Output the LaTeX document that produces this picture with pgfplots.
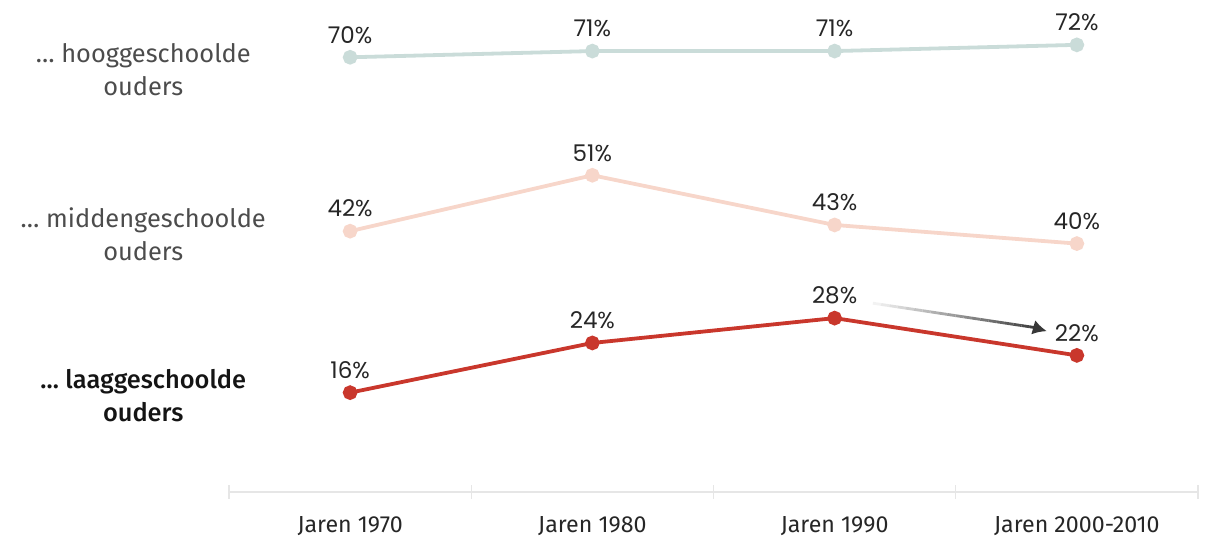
\documentclass[border=0pt]{standalone}
\usepackage{pgfplots}
\pgfplotsset{compat=1.18}
\usepackage{fontspec}
\setmainfont{Fira Sans}
\newfontfamily\numfont{Poppins}
\newfontfamily\medfont{Fira Sans Medium}
\usetikzlibrary{arrows.meta,calc}
\definecolor{hoog}{HTML}{CADCD9}
\definecolor{midden}{HTML}{F7D6CA}
\definecolor{laag}{HTML}{C9372C}
\definecolor{axisgray}{HTML}{E6E6E6}
\begin{document}
\begin{tikzpicture}
\useasboundingbox (-114.5pt,-22.5pt) rectangle (496.5pt,246pt);
\begin{axis}[
  at={(0,0)}, anchor=south west,
  scale only axis, width=484.5pt, height=236pt,
  xmin=-0.5, xmax=3.5, ymin=0, ymax=76,
  clip=false,
  axis y line=none, axis x line=bottom,
  x axis line style={-, draw=axisgray, line width=0.8pt},
  xtick={0,1,2,3},
  xticklabels={Jaren 1970,Jaren 1980,Jaren 1990,Jaren 2000-2010},
  major x tick style={draw=none},
  xticklabel style={font=\fontsize{11.6}{13}\selectfont, text=black!85, yshift=-6pt},
  extra x ticks={-0.5,0.5,1.5,2.5,3.5},
  extra x tick labels={},
  extra x tick style={major tick length=7pt, tick align=center, major x tick style={draw=axisgray, line width=0.6pt}},
  point meta=y,
  /pgf/number format/assume math mode=true,
  nodes near coords={\numfont\pgfmathprintnumber{\pgfplotspointmeta}\%},
  every node near coord/.append style={anchor=south, inner sep=0pt, yshift=6pt, text=black!85, font=\fontsize{11.5}{13}\selectfont},
  mark=*, mark size=2.7pt, line width=1.9pt,
]
\addplot[color=hoog, mark=*, mark options={fill=hoog, draw=hoog}] coordinates {(0,70) (1,71) (2,71) (3,72)};
\addplot[color=midden, mark=*, mark options={fill=midden, draw=midden}] coordinates {(0,42) (1,51) (2,43) (3,40)};
\addplot[color=laag, mark=*, mark options={fill=laag, draw=laag}] coordinates {(0,16) (1,24) (2,28) (3,22)};

\coordinate (a1) at (axis cs:2.158,30.4);
\coordinate (a2) at (axis cs:2.84,26.4);
\coordinate (a3) at (axis cs:2.876,25.9);

\node[align=center, text=black!70, font=\fontsize{12.7}{16.5}\selectfont] at (axis cs:-0.854,68) {\dots\ hooggeschoolde\\ouders};
\node[align=center, text=black!70, font=\fontsize{12.7}{16.5}\selectfont] at (axis cs:-0.854,41.5) {\dots\ middengeschoolde\\ouders};
\node[align=center, text=black!92, font=\fontsize{12.7}{16.5}\selectfont\medfont] at (axis cs:-0.854,15.5) {\dots\ laaggeschoolde\\ouders};
\end{axis}
\foreach \i in {0,...,19} {
  \pgfmathsetmacro{\ta}{\i/20}
  \pgfmathsetmacro{\tb}{(\i+1)/20}
  \pgfmathsetmacro{\c}{5+\i*3.7}
  \draw[line width=1.4pt, color=black!\c] ($(a1)!\ta!(a2)$) -- ($(a1)!\tb!(a2)$);
}
\draw[-{Latex[length=7pt,width=7.5pt]}, line width=1.4pt, color=black!78] ($(a1)!0.97!(a2)$) -- (a3);
\end{tikzpicture}
\end{document}
